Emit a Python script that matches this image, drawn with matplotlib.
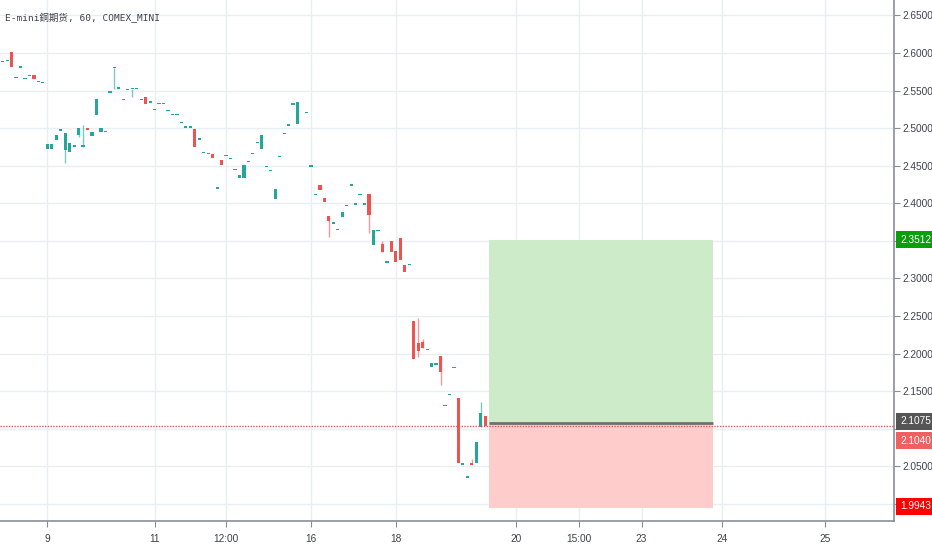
import numpy as np
import matplotlib.pyplot as plt
from matplotlib.patches import Rectangle

plt.rcParams['font.family'] = ['Liberation Sans Narrow', 'Liberation Sans', 'DejaVu Sans']

# E-mini copper 60 min bars (index = bar number)
nan = np.nan
opens = [2.5875, 2.5888, 2.6012, 2.5662, 2.5803, 2.5649, 2.5693, 2.5710, 2.5609, 2.5596,
         2.4718, 2.4718, 2.4845, 2.4965, 2.4708, 2.4678, 2.4752, 2.4912, 2.4752, 2.5005,
         2.4899, 2.5178, 2.4944, 2.4948, 2.5471, 2.5799, 2.5524, 2.5369, 2.5506, 2.5520,
         2.5520, 2.5369, 2.5413, 2.5337, 2.5240, 2.5316, 2.5316, 2.5227, 2.5170, 2.5170,
         2.5063, 2.5005, 2.5005, 2.4992, 2.4845, 2.4668, 2.4655, 2.4655, 2.4194, 2.4575,
         2.4625, 2.4585, 2.4438, 2.4340, 2.4340, 2.4545, 2.4655, 2.4797, 2.4718, 2.4482,
         2.4429, 2.4061, 2.4611, 2.4921, 2.5032, 2.5311, 2.5054, nan, 2.5200, 2.4486,
         2.4106, 2.4239, 2.4070, 2.3830, 2.3728, 2.3644, 2.3817, 2.3959, 2.4233, 2.3981,
         2.4106, 2.3981, 2.4123, 2.3445, 2.3627, 2.3454, 2.3209, 2.3498, 2.3369, 2.3534,
         2.3183, 2.3179, 2.2438, 2.2145, 2.2158, 2.2048, 2.1818, 2.1853, 2.1968, 2.1303,
         2.1446, 2.1809, 2.1406, 2.0523, 2.0349, 2.0549, 2.0541, 2.1020, 2.1166]
closes = [2.5875, 2.5888, 2.5816, 2.5662, 2.5803, 2.5649, 2.5693, 2.5657, 2.5609, 2.5596,
          2.4784, 2.4784, 2.4908, 2.4965, 2.4930, 2.4805, 2.4752, 2.5001, 2.4755, 2.4978,
          2.4948, 2.5383, 2.5001, 2.4948, 2.5471, 2.5801, 2.5524, 2.5369, 2.5506, 2.5520,
          2.5520, 2.5369, 2.5316, 2.5337, 2.5240, 2.5316, 2.5316, 2.5227, 2.5170, 2.5170,
          2.5063, 2.5005, 2.5005, 2.4744, 2.4845, 2.4668, 2.4655, 2.4606, 2.4194, 2.4505,
          2.4625, 2.4585, 2.4438, 2.4372, 2.4505, 2.4545, 2.4655, 2.4797, 2.4908, 2.4482,
          2.4429, 2.4194, 2.4611, 2.4921, 2.5032, 2.5311, 2.5343, nan, 2.5200, 2.4486,
          2.4106, 2.4180, 2.4017, 2.3764, 2.3728, 2.3644, 2.3884, 2.3959, 2.4233, 2.3981,
          2.4106, 2.3981, 2.3848, 2.3644, 2.3627, 2.3356, 2.3209, 2.3356, 2.3219, 2.3245,
          2.3090, 2.3179, 2.1928, 2.2039, 2.2071, 2.2048, 2.1871, 2.1853, 2.1760, 2.1303,
          2.1446, 2.1809, 2.0541, 2.0523, 2.0349, 2.0523, 2.0828, 2.1206, 2.1040]
# only bars with visible wicks beyond the body: {bar: (high, low)}
wicks = {14: (2.4930, 2.4539), 17: (2.5001, 2.4881), 18: (2.5037, 2.4752),
         25: (2.5801, 2.5524), 29: (2.5520, 2.5417), 73: (2.3830, 2.3555),
         82: (2.4123, 2.3608), 85: (2.3498, 2.3356), 93: (2.2470, 2.1959),
         94: (2.2190, 2.2071), 98: (2.1968, 2.1579), 105: (2.0594, 2.0523),
         107: (2.1353, 2.1020)}

# long position tool
pos_start, pos_end = 109, 159
entry_price = 2.1075
target_price = 2.3512
stop_price = 1.9943
last_price = 2.1040

tick_bars = [10, 34, 50, 69, 88, 115, 129, 143, 161, 184]
tick_labels = ['9', '11', '12:00', '16', '18', '20', '15:00', '23', '24', '25']
price_ticks = np.round(np.arange(2.00, 2.651, 0.05), 2)
hidden_ticks = [2.00, 2.10, 2.35]

up_col = '#26a69a'
down_col = '#ef5350'
grid_col = '#e9eef2'
axis_col = '#8a8d96'
text_col = '#3e424c'

fig = plt.figure(figsize=(9.32, 5.5), dpi=100)
ax = fig.add_axes([0, 29 / 550, 894 / 932, 521 / 550])
ax.set_xlim(-0.6, 199.5)
ax.set_ylim(1.9773, 2.6704)

# candles
o = np.array(opens)
c = np.array(closes)
idx = np.arange(len(o))
ok = ~np.isnan(o)
min_h = 0.0018
bottoms = np.minimum(o, c)
heights = np.maximum(np.abs(c - o), min_h)
colors = [up_col if cc >= oo else down_col for oo, cc in zip(o, c)]
for i in idx[ok]:
    if i in wicks:
        hi, lo = wicks[i]
        ax.vlines(i, lo, hi, color=colors[i], lw=1, alpha=0.6, zorder=3)
ax.bar(idx[ok], heights[ok], bottom=bottoms[ok], width=0.72,
       color=[colors[i] for i in idx[ok]], edgecolor='none', zorder=4)

# position boxes
ax.add_patch(Rectangle((pos_start - 0.1, entry_price), pos_end - pos_start,
                       target_price - entry_price, facecolor='#cdeac9',
                       edgecolor='none', zorder=2))
ax.add_patch(Rectangle((pos_start - 0.1, stop_price), pos_end - pos_start,
                       entry_price - stop_price, facecolor='#ffcccc',
                       edgecolor='none', zorder=2))
ax.hlines(entry_price, pos_start - 0.1, pos_end - 0.1, color='#707070', lw=2, zorder=3)

# last price line
ax.axhline(last_price, color=down_col, lw=1, ls=(0, (1, 1)), zorder=5)

# axes styling
ax.set_facecolor('white')
for s in ['top', 'left']:
    ax.spines[s].set_visible(False)
for s in ['right', 'bottom']:
    ax.spines[s].set_color(axis_col)
    ax.spines[s].set_linewidth(1.2)

ax.yaxis.tick_right()
ax.set_yticks(price_ticks)
ax.set_yticklabels(['' if t in hidden_ticks else f'{t:.4f}' for t in price_ticks])
ax.set_xticks(tick_bars)
ax.set_xticklabels(tick_labels)
ax.tick_params(axis='both', direction='out', length=4, color=axis_col,
               labelcolor=text_col, labelsize=7.3, pad=2)
ax.tick_params(axis='x', pad=5)
ax.grid(True, color=grid_col, lw=1, zorder=0)
ax.set_axisbelow(True)

# price labels on the right axis
price_labels = [(target_price, '#08a008', 0),
                (entry_price, '#555555', 2),
                (last_price, '#f06060', -15),
                (stop_price, '#ff0000', 2)]
for p, bg, dy in price_labels:
    ax.annotate(f'{p:.4f}', xy=(1.0, p), xycoords=('axes fraction', 'data'),
                xytext=(6, dy), textcoords='offset pixels', va='center', ha='left',
                fontsize=7.3, color='white', annotation_clip=False, zorder=10,
                bbox=dict(boxstyle='square,pad=0.35', facecolor=bg, edgecolor='none'))

fig.text(5 / 932, 1 - 18 / 550, 'E-mini銅期货, 60, COMEX_MINI',
         family=['DejaVu Sans Mono', 'Noto Sans CJK SC'], fontsize=6.8,
         color=text_col, va='center', ha='left')

fig.savefig('out.png', dpi=100)
